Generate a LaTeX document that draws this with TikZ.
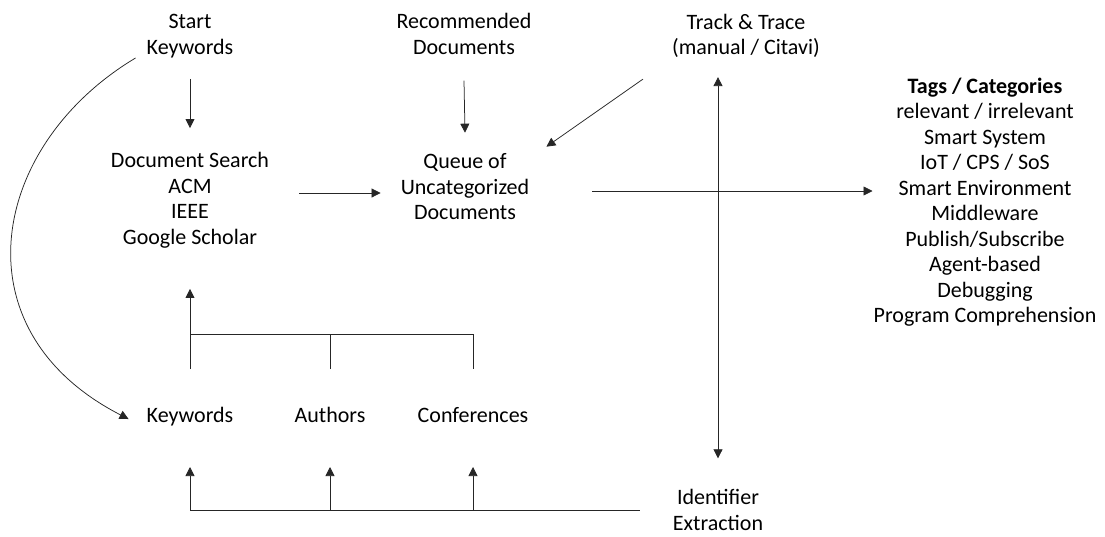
\documentclass[tikz,border=0pt]{standalone}
\usepackage{fontspec}
\setmainfont{Carlito}
\usetikzlibrary{arrows.meta,calc}
\begin{document}
\begin{tikzpicture}[x=1pt,y=-1pt,
  lbl/.style={align=center,inner sep=0pt,font=\fontsize{22}{25.5}\selectfont},
  conn/.style={line width=0.75pt,draw=black!85},
  arr/.style={conn,-{Triangle[length=9pt,width=9pt]}},
  darr/.style={conn,{Triangle[length=9pt,width=9pt]}-{Triangle[length=9pt,width=9pt]}}]
\useasboundingbox (0,0) rectangle (1105,536);

% sources and search
\node[lbl] (start) at (190,36) {Start\\Keywords};
\node[lbl] (rec)   at (464,34) {Recommended\\Documents};
\node[lbl] (track) at (746,36) {Track \& Trace\\(manual / Citavi)};
\node[lbl] (search) at (190,200) {Document Search\\ACM\\IEEE\\Google Scholar};
\node[lbl] (queue) at (465,187) {Queue of\\Uncategorized\\Documents};
\node[lbl] (tags) at (985,202) {\textbf{Tags / Categories}\\relevant / irrelevant\\Smart System\\IoT / CPS / SoS\\Smart Environment\\Middleware\\Publish/Subscribe\\Agent-based\\Debugging\\Program Comprehension};

% identifiers
\node[lbl] (kw)   at (190,417) {Keywords};
\node[lbl] (auth) at (330,415) {Authors};
\node[lbl] (conf) at (473,415) {Conferences};
\node[lbl] (ident) at (718,510) {Identifier\\Extraction};

% bus rows
\coordinate (busT) at (0,334);
\coordinate (stubT) at (0,369);
\coordinate (busB) at (0,510);
\coordinate (tipB) at (0,467);
\coordinate (busEnd) at (640,510);

% top flow
\draw[arr] ($(start.south)+(0,21)$) -- ($(search.north)+(0,-24)$);
\draw[arr] ($(rec.south)+(0,26)$) -- ($(queue.north)+(0,-21)$);
\draw[arr] ($(track.south west)+(-29,21)$) -- ($(queue.north east)+(17,-7)$);
\draw[arr] ($(search.east)+(30,-7)$) -- ($(queue.west |- search.east)+(-20,-7)$);
\draw[arr] ($(queue.east)+(63,4)$) -- ($(tags.west |- queue.east)+(-1,4)$);
\draw[darr] ($(ident.north |- track.south)+(0,19)$) -- ($(ident.north)+(0,-31)$);

% start keywords loop back to keywords
\draw[arr] ($(start.west)+(-11,22)$) .. controls (-10,145) and (-45,330) .. ($(kw.west)+(-18,2)$);

% identifiers feed the search
\draw[conn] (kw.north |- stubT) -- (kw.north |- busT) -- (conf.north |- busT) -- (conf.north |- stubT);
\draw[conn] (auth.north |- stubT) -- (auth.north |- busT);
\draw[arr] (kw.north |- busT) -- ($(search.south)+(0,41)$);

% extraction feeds the identifiers
\draw[conn] (kw.south |- busB) -- (busEnd);
\draw[arr] (kw.south |- busB) -- (kw.south |- tipB);
\draw[arr] (auth.south |- busB) -- (auth.south |- tipB);
\draw[arr] (conf.south |- busB) -- (conf.south |- tipB);
\end{tikzpicture}
\end{document}
